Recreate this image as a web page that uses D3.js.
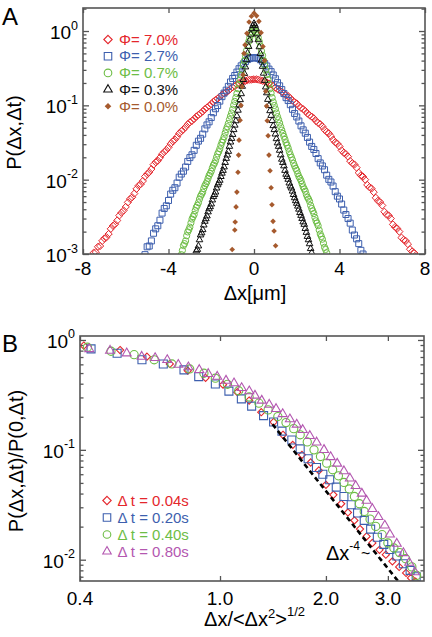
<!DOCTYPE html>
<html><head><meta charset="utf-8">
<script src="https://cdnjs.cloudflare.com/ajax/libs/d3/7.8.5/d3.min.js"></script>
<style>body{margin:0;background:#fff} text{font-family:"Liberation Sans",Arial,Helvetica,sans-serif}</style>
</head><body><svg id="c" width="432" height="637"></svg>
<script>
// ---------------- Panel A data ----------------
const phiLabels = ["Φ= 7.0%","Φ= 2.7%","Φ= 0.7%","Φ= 0.3%","Φ= 0.0%"];
const xTicksA = [-8,-4,0,4,8];
const yTicksA = [1e-3,1e-2,1e-1,1];
const yExpA = ["-3","-2","-1","0"];

// bin grids (start, step) and P values
const phi70Start = -7.6, phi70Step = 0.1;
const phi70 = [
  0.00088,0.00104,0.00106,0.00125,0.00128,0.00150,0.00162,0.00168,0.00186,0.00218,
  0.00240,0.00252,0.00282,0.00330,0.00360,0.00385,0.00430,0.00495,0.00550,0.00580,
  0.00650,0.00750,0.00830,0.00870,0.00960,0.0110,0.0119,0.0126,0.0139,0.0159,
  0.0172,0.0180,0.0198,0.0220,0.0236,0.0250,0.0272,0.0303,0.0328,0.0346,
  0.0377,0.0418,0.0450,0.0474,0.0510,0.0556,0.0592,0.0620,0.0657,0.0706,
  0.0745,0.0780,0.0828,0.0888,0.0935,0.0985,0.104,0.112,0.118,0.123,
  0.131,0.139,0.146,0.150,0.157,0.167,0.175,0.181,0.190,0.199,
  0.205,0.208,0.213,0.219,0.221,0.222,
  0.224,
  0.224,0.222,0.217,0.214,0.210,0.203,0.197,0.192,0.183,0.173,
  0.165,0.159,0.152,0.144,0.137,0.133,0.125,0.116,0.110,0.106,
  0.0980,0.0925,0.0890,0.0838,0.0778,0.0735,0.0705,0.0668,0.0615,0.0582,
  0.0558,0.0520,0.0470,0.0440,0.0420,0.0385,0.0344,0.0318,0.0305,0.0280,
  0.0248,0.0230,0.0221,0.0204,0.0178,0.0166,0.0160,0.0145,0.0124,0.0114,
  0.0110,0.0100,0.0085,0.0079,0.0076,0.0068,0.0057,0.0052,0.0050,0.0045,
  0.0037,0.0034,0.0033,0.0030,0.0025,0.0023,0.0022,0.0020,0.00166,0.00155,
  0.00150,0.00136,0.00116,0.00108,0.00103,0.00093];

const phi27Start = -5.2, phi27Step = 0.1;
const phi27 = [
  0.00090,0.00098,0.00125,0.00128,0.00150,0.00190,0.00218,0.00240,0.00285,0.00355,
  0.00410,0.00445,0.00525,0.00640,0.00720,0.00780,0.00900,0.0108,0.0119,0.0130,
  0.0148,0.0176,0.0198,0.0216,0.0248,0.0290,0.0330,0.0360,0.0410,0.0482,
  0.0545,0.0600,0.0685,0.0795,0.0900,0.0995,0.114,0.131,0.146,0.160,
  0.180,0.206,0.230,0.252,0.280,0.311,0.340,0.361,0.388,0.413,
  0.426,0.434,
  0.437,
  0.436,0.428,0.410,0.390,0.365,0.338,0.307,0.284,0.256,0.228,
  0.202,0.183,0.163,0.144,0.127,0.116,0.102,0.0885,0.0778,0.0698,
  0.0615,0.0530,0.0468,0.0422,0.0370,0.0320,0.0280,0.0255,0.0225,0.0192,
  0.0168,0.0153,0.0136,0.0115,0.0101,0.0093,0.0082,0.0069,0.0060,0.0055,
  0.0047,0.0039,0.0034,0.0030,0.0026,0.0021,0.0018,0.0016,0.00138,0.00112,
  0.00100,0.00088];

const phi07Start = -3.4, phi07Step = 0.05;
const phi07 = [
  0.00098,0.00112,0.00130,0.00138,0.00150,0.00176,0.00198,0.00212,0.00230,0.00262,
  0.00295,0.00318,0.00340,0.00384,0.00425,0.00452,0.00490,0.00548,0.00600,0.00636,
  0.00680,0.00760,0.00830,0.00880,0.00940,0.0104,0.0114,0.0121,0.0130,0.0144,
  0.0157,0.0166,0.0180,0.0201,0.0222,0.0238,0.0260,0.0290,0.0318,0.0344,
  0.0378,0.0425,0.0472,0.0516,0.0570,0.0642,0.0715,0.0790,0.0885,0.101,
  0.113,0.127,0.144,0.167,0.192,0.220,0.255,0.300,0.350,0.400,
  0.465,0.545,0.635,0.720,0.810,0.895,0.975,1.03,
  1.05,
  1.03,0.980,0.900,0.815,0.718,0.628,0.540,0.470,0.402,0.345,
  0.298,0.259,0.222,0.190,0.167,0.146,0.127,0.111,0.0995,0.0895,
  0.0790,0.0705,0.0640,0.0578,0.0515,0.0465,0.0420,0.0382,0.0348,0.0314,
  0.0290,0.0265,0.0238,0.0217,0.0200,0.0184,0.0166,0.0153,0.0142,0.0133,
  0.0120,0.0110,0.0104,0.0097,0.0088,0.0080,0.0075,0.0070,0.0063,0.0058,
  0.0055,0.0051,0.0045,0.0041,0.0038,0.0035,0.0031,0.0028,0.0026,0.0024,
  0.00210,0.00186,0.00172,0.00158,0.00140,0.00123,0.00115,0.00104];

const phi03Start = -2.7, phi03Step = 0.05;
const phi03 = [
  0.00110,0.00115,0.00128,0.00155,0.00180,0.00192,0.00212,0.00245,0.00275,0.00298,
  0.00325,0.00368,0.00405,0.00432,0.00470,0.00532,0.00590,0.00630,0.00680,0.00770,
  0.00850,0.00905,0.0098,0.0110,0.0122,0.0133,0.0148,0.0170,0.0193,0.0214,
  0.0240,0.0280,0.0320,0.0358,0.0405,0.0470,0.0540,0.0618,0.0720,0.0858,
  0.101,0.119,0.143,0.180,0.222,0.268,0.328,0.410,0.505,0.618,
  0.755,0.905,1.07,1.18,
  1.26,
  1.19,1.08,0.915,0.762,0.612,0.498,0.405,0.334,0.270,0.216,
  0.176,0.147,0.120,0.099,0.0845,0.0730,0.0622,0.0532,0.0470,0.0410,
  0.0355,0.0312,0.0280,0.0248,0.0215,0.0188,0.0170,0.0153,0.0133,0.0118,
  0.0110,0.0101,0.0090,0.0082,0.0077,0.0070,0.0063,0.0057,0.0052,0.0048,
  0.0044,0.0040,0.0036,0.0033,0.0030,0.0027,0.0025,0.0022,0.00195,0.00172,
  0.00155,0.00137,0.00118,0.00104];

const phi00X = [-1.02,-0.90,-0.88,-0.84,-0.80,-0.75,-0.72,-0.70,-0.65,-0.61,-0.56,-0.51,-0.47,-0.42,-0.33,-0.23,-0.12,0,0.12,0.23,0.33,0.42,0.50,0.55,0.59,0.62,0.66,0.70,0.75,0.80,0.84,0.89,0.94,1.01];
const phi00 = [0.00115,0.0021,0.0027,0.0043,0.0068,0.0126,0.0214,0.034,0.063,0.10,0.178,0.257,0.50,0.65,0.93,1.32,1.58,1.74,1.60,1.35,0.95,0.62,0.40,0.155,0.098,0.062,0.039,0.0214,0.0132,0.0078,0.0046,0.00275,0.00204,0.00129];

// ---------------- Panel B data ----------------
const dtLabels = ["Δ t = 0.04s","Δ t = 0.20s","Δ t = 0.40s","Δ t = 0.80s"];
const xTicksB = [0.4,1,2,3];
const xTickLabB = ["0.4","1.0","2.0","3.0"];
const yTicksB = [1e-2,1e-1,1];
const yExpB = ["-2","-1","0"];

const dt004X = [0.41,0.52,0.62,0.72,0.81,0.91,1.02,1.12,1.21,1.31,1.42,1.51,1.61,1.71,1.81,1.91,2.0,2.1,2.21,2.31,2.41,2.5,2.61,2.71,2.84,2.96,3.09,3.23,3.38,3.49,3.6];
const dt004 = [0.89,0.81,0.705,0.605,0.526,0.452,0.392,0.335,0.281,0.220,0.179,0.137,0.111,0.090,0.0767,0.0649,0.048,0.039,0.0323,0.0269,0.0228,0.0190,0.0163,0.0142,0.0123,0.0111,0.00966,0.00859,0.00758,0.00682,0.0063];

const dt020X = [0.43,0.51,0.60,0.69,0.79,0.87,0.97,1.06,1.15,1.23,1.33,1.42,1.50,1.60,1.69,1.78,1.88,1.96,2.05,2.14,2.25,2.36,2.46,2.57,2.68,2.80,2.92,3.04,3.18,3.32,3.47,3.61];
const dt020 = [0.83,0.757,0.66,0.605,0.534,0.464,0.398,0.342,0.291,0.25,0.205,0.179,0.148,0.123,0.102,0.083,0.069,0.060,0.0535,0.0458,0.0376,0.0316,0.0266,0.0228,0.0190,0.0160,0.0138,0.0124,0.0108,0.0092,0.0080,0.0070];

const dt040X = [0.42,0.49,0.57,0.65,0.73,0.82,0.90,0.97,1.05,1.13,1.21,1.29,1.37,1.46,1.54,1.62,1.69,1.77,1.85,1.93,2.01,2.09,2.17,2.25,2.33,2.41,2.49,2.57,2.67,2.77,2.89,3.00,3.12,3.24,3.37,3.51,3.62];
const dt040 = [0.86,0.79,0.735,0.66,0.605,0.545,0.498,0.449,0.395,0.345,0.303,0.266,0.231,0.201,0.177,0.156,0.137,0.118,0.100,0.087,0.0757,0.0658,0.058,0.0505,0.044,0.0376,0.0323,0.0275,0.0234,0.0201,0.0169,0.0142,0.0128,0.0116,0.0102,0.0086,0.0072];

const dt080X = [0.425,0.487,0.543,0.599,0.654,0.708,0.761,0.813,0.873,0.926,0.982,1.04,1.096,1.152,1.211,1.257,1.314,1.38,1.443,1.507,1.58,1.652,1.718,1.80,1.882,1.975,2.063,2.153,2.25,2.34,2.43,2.53,2.61,2.71,2.82,2.94,3.04,3.18,3.32,3.45,3.58];
const dt080 = [0.828,0.80,0.757,0.705,0.686,0.658,0.596,0.565,0.534,0.491,0.464,0.427,0.404,0.366,0.342,0.312,0.281,0.258,0.236,0.212,0.190,0.170,0.152,0.134,0.117,0.100,0.086,0.075,0.064,0.055,0.047,0.040,0.0345,0.0290,0.0245,0.0205,0.0170,0.0140,0.0115,0.0094,0.0077];

// power-law guide Δx^-4 (two end points)
const guideX = [1.41, 3.25];
const guideY = [0.171, 0.00605];

// ---------------- drawing ----------------
const svg = d3.select("#c");
const FRAME = "#555";
const cRed="#e4262c", cBlue="#3d5fae", cGreen="#6dbd45", cBlack="#111", cBrown="#a65a2e", cPurple="#b357b0";

const shapes = {
  diamond: r => `M0,${-r}L${r},0L0,${r}L${-r},0Z`,
  square: s => `M${-s/2},${-s/2}h${s}v${s}h${-s}Z`,
  circle: r => `M${r},0A${r},${r},0,1,1,${-r},0A${r},${r},0,1,1,${r},0Z`,
  triangle: s => { const h=s*0.866; return `M0,${-h*2/3}L${s/2},${h/3}L${-s/2},${h/3}Z`; }
};

function grid(start, step, n){ return d3.range(n).map(i => +(start + step*i).toFixed(3)); }

function drawPanel(o){
  const g = svg.append("g");
  const clipId = "clip"+o.id;
  svg.append("clipPath").attr("id",clipId).append("rect")
    .attr("x",o.x0).attr("y",o.y0).attr("width",o.x1-o.x0).attr("height",o.y1-o.y0);
  const minors = o.y.ticks().filter(v => !o.yMajor.some(m => Math.abs(m-v)/v < 1e-6));
  const yAxL = d3.axisLeft(o.y).tickValues(o.yMajor).tickSize(-6).tickFormat("");
  const yAxLm = d3.axisLeft(o.y).tickValues(minors).tickSize(-3.5).tickFormat("");
  const yAxR = d3.axisRight(o.y).tickValues(o.yMajor).tickSize(-6).tickFormat("");
  const yAxRm = d3.axisRight(o.y).tickValues(minors).tickSize(-3.5).tickFormat("");
  const xAxB = d3.axisBottom(o.x).tickValues(o.xMajor).tickSize(-5).tickFormat("");
  const xAxT = d3.axisTop(o.x).tickValues(o.xMajor).tickSize(-5).tickFormat("");
  [[yAxL,`translate(${o.x0},0)`],[yAxLm,`translate(${o.x0},0)`],[yAxR,`translate(${o.x1},0)`],[yAxRm,`translate(${o.x1},0)`],
   [xAxB,`translate(0,${o.y1})`],[xAxT,`translate(0,${o.y0})`]].forEach(([ax,tr])=>{
    const a = g.append("g").attr("transform",tr).call(ax);
    a.select(".domain").remove();
    a.selectAll("line").attr("stroke",FRAME).attr("stroke-width",1.3);
  });
  const data = g.append("g").attr("clip-path",`url(#${clipId})`);
  o.series.forEach(s=>{
    data.append("g").selectAll("path").data(s.xs.map((x,i)=>[x,s.ys[i]])).join("path")
      .attr("transform",d=>`translate(${o.x(d[0])},${o.y(d[1])})`)
      .attr("d",s.path)
      .attr("fill",s.fill||"none").attr("stroke",s.fill?"none":s.color).attr("stroke-width",s.sw||1);
  });
  if(o.extra) o.extra(data);
  g.append("rect").attr("x",o.x0).attr("y",o.y0).attr("width",o.x1-o.x0).attr("height",o.y1-o.y0)
    .attr("fill","none").attr("stroke",FRAME).attr("stroke-width",1.6);
  o.yMajor.forEach((v,i)=>{
    const t = g.append("text").attr("x",o.x0-5).attr("y",o.y(v)+8).attr("text-anchor","end")
      .attr("font-size",19).attr("fill","#000");
    t.append("tspan").text("10");
    t.append("tspan").attr("dy",-9.5).attr("font-size",12.5).text(o.yExp[i]);
  });
  o.xMajor.forEach((v,i)=>{
    g.append("text").attr("x",o.x(v)).attr("y",o.xLabY).attr("text-anchor","middle")
      .attr("font-size",19).attr("fill","#000").text(o.xLab[i]);
  });
  return g;
}

// ---- Panel A ----
const xA = d3.scaleLinear().domain([-8,8]).range([83,425]);
const yA = d3.scaleLog().domain([1e-3,2.04]).range([254,8]);
const seriesA = [
  {xs: grid(phi70Start,phi70Step,phi70.length), ys: phi70, path: shapes.diamond(3.6), color: cRed},
  {xs: grid(phi27Start,phi27Step,phi27.length), ys: phi27, path: shapes.square(6), color: cBlue},
  {xs: grid(phi07Start,phi07Step,phi07.length), ys: phi07, path: shapes.circle(3.1), color: cGreen},
  {xs: grid(phi03Start,phi03Step,phi03.length), ys: phi03, path: shapes.triangle(6.6), color: cBlack},
  {xs: phi00X, ys: phi00, path: shapes.diamond(2.8), color: cBrown, fill: cBrown}
];
drawPanel({id:"A", x:xA, y:yA, x0:83, x1:425, y0:8, y1:254, xMajor:xTicksA, yMajor:yTicksA, yExp:yExpA,
  xLab:xTicksA.map(String), xLabY:275, series:seriesA});

const legA = svg.append("g");
const legAColors = [cRed,cBlue,cGreen,cBlack,cBrown];
const legAShapes = [shapes.diamond(4.2), shapes.square(7.5), shapes.circle(3.8), shapes.triangle(8.5), shapes.diamond(3.3)];
phiLabels.forEach((lab,i)=>{
  const y = 39.5 + i*16.7;
  legA.append("path").attr("transform",`translate(108,${y})`).attr("d",legAShapes[i])
    .attr("fill", i===4?cBrown:"none").attr("stroke", i===4?"none":legAColors[i]).attr("stroke-width",1.1);
  legA.append("text").attr("x",119).attr("y",y+5.2).attr("font-size",15).attr("fill",legAColors[i]).text(lab);
});

svg.append("text").attr("x",255).attr("y",300).attr("text-anchor","middle").attr("font-size",20).text("Δx[μm]");
svg.append("text").attr("transform","translate(21,132.5) rotate(-90)").attr("text-anchor","middle").attr("font-size",20).text("P(Δx,Δt)");
svg.append("text").attr("x",2).attr("y",25).attr("font-size",24).text("A");

// ---- Panel B ----
const xB = d3.scaleLog().domain([0.4,3.8]).range([80,424]);
const yB = d3.scaleLog().domain([0.0064,1.087]).range([581,336]);
const seriesB = [
  {xs: dt004X, ys: dt004, path: shapes.diamond(3.6), color: cRed, sw:1.1},
  {xs: dt020X, ys: dt020, path: shapes.square(8), color: cBlue, sw:1.1},
  {xs: dt040X, ys: dt040, path: shapes.circle(4.1), color: cGreen, sw:1.1},
  {xs: dt080X, ys: dt080, path: shapes.triangle(9), color: cPurple, sw:1.1}
];
drawPanel({id:"B", x:xB, y:yB, x0:80, x1:424, y0:336, y1:581, xMajor:xTicksB, yMajor:yTicksB, yExp:yExpB,
  xLab:xTickLabB, xLabY:605, series:seriesB,
  extra: layer => {
    layer.append("path").datum(guideX.map((x,i)=>[x,guideY[i]]))
      .attr("d", d3.line().x(d=>xB(d[0])).y(d=>yB(d[1])))
      .attr("stroke","#000").attr("stroke-width",2.6).attr("stroke-dasharray","5,3.5").attr("fill","none");
  }});

const legB = svg.append("g");
const legBColors = [cRed,cBlue,cGreen,cPurple];
const legBShapes = [shapes.diamond(4.2), shapes.square(7.5), shapes.circle(3.8), shapes.triangle(8.5)];
dtLabels.forEach((lab,i)=>{
  const y = 500.5 + i*17;
  legB.append("path").attr("transform",`translate(107,${y})`).attr("d",legBShapes[i])
    .attr("fill","none").attr("stroke",legBColors[i]).attr("stroke-width",1.1);
  legB.append("text").attr("x",117.5).attr("y",y+5.2).attr("font-size",15).attr("fill",legBColors[i]).text(lab);
});

const ann = svg.append("text").attr("x",326).attr("y",560).attr("font-size",20);
ann.append("tspan").text("Δx");
ann.append("tspan").attr("dy",-10).attr("font-size",12).text("-4");
svg.append("text").attr("x",361).attr("y",559).attr("font-size",16).text("~");

const xl = svg.append("text").attr("x",254.5).attr("y",626).attr("text-anchor","middle").attr("font-size",20);
xl.append("tspan").text("Δx/<Δx");
xl.append("tspan").attr("dy",-8).attr("font-size",13).text("2");
xl.append("tspan").attr("dy",8).text(">");
xl.append("tspan").attr("dy",-10).attr("font-size",13).text("1/2");
svg.append("text").attr("transform","translate(23,461) rotate(-90)").attr("text-anchor","middle").attr("font-size",20).text("P(Δx,Δt)/P(0,Δt)");
svg.append("text").attr("x",2).attr("y",352).attr("font-size",24).text("B");
</script></body></html>
